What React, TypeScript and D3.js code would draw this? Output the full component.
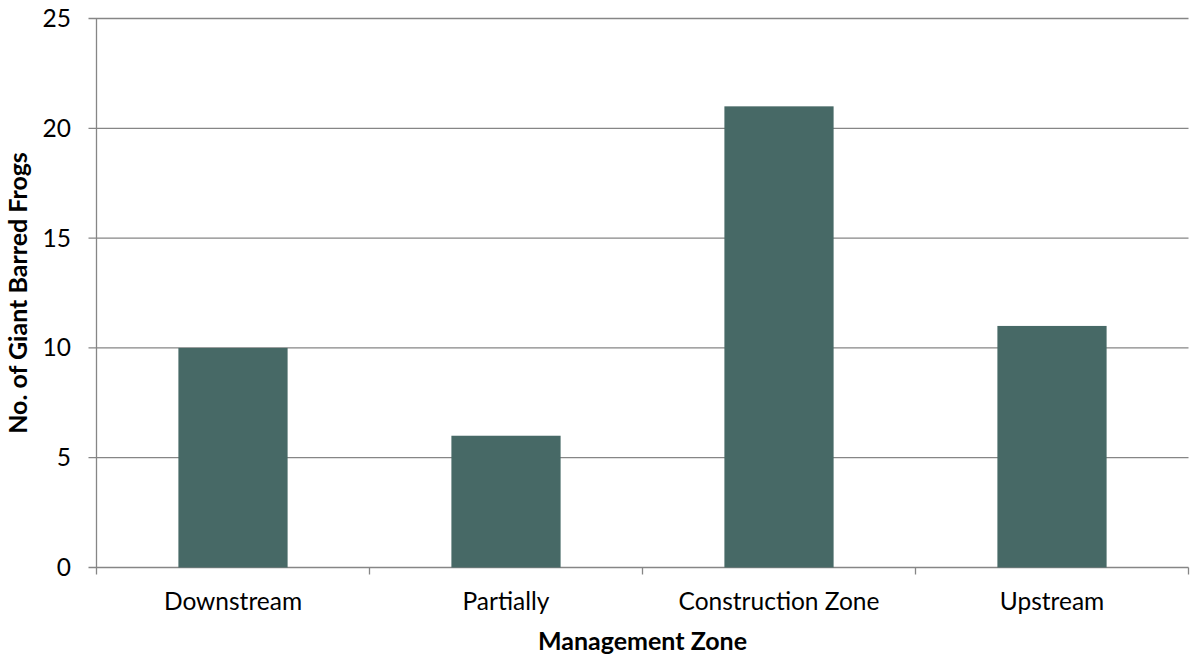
import React from "react";
import * as d3 from "d3";

const zones = ["Downstream", "Partially", "Construction Zone", "Upstream"];
const frogCounts = [10, 6, 21, 11];
const yTicks = [0, 5, 10, 15, 20, 25];

const W = 1192;
const H = 659;
const margin = { left: 96.5, right: 3.5, top: 18.5, bottom: 91.5 };
const FONT = "Lato, 'Open Sans', sans-serif";
const FS = 24.5;
const FS_TITLE = 25;

export default function App() {
  const x = d3
    .scaleBand<string>()
    .domain(zones)
    .range([margin.left, W - margin.right])
    .paddingInner(0.6)
    .paddingOuter(0.3);
  const y = d3
    .scaleLinear()
    .domain([0, 25])
    .range([H - margin.bottom, margin.top]);

  const step = x.step();
  const x0 = margin.left;
  const boundaries = d3.range(zones.length + 1).map((i) => x0 + i * step);
  const axisColor = "#868686";

  return (
    <svg
      width={W}
      height={H}
      style={{ position: "absolute", left: 0, top: 0, background: "#fff" }}
    >
      {yTicks.map((t) => (
        <g key={t}>
          <line
            x1={margin.left - 8}
            x2={W - margin.right}
            y1={y(t)}
            y2={y(t)}
            stroke={axisColor}
            strokeWidth={1.3}
          />
          <text
            x={71}
            y={y(t)}
            dy="0.35em"
            textAnchor="end"
            fontFamily={FONT}
            fontSize={FS}
            fill="#000"
          >
            {t}
          </text>
        </g>
      ))}
      {zones.map((z, i) => (
        <rect
          key={z}
          x={x(z)}
          y={y(frogCounts[i])}
          width={x.bandwidth()}
          height={y(0) - y(frogCounts[i])}
          fill="#476966"
        />
      ))}
      <line
        x1={margin.left}
        x2={margin.left}
        y1={y(25)}
        y2={y(0)}
        stroke={axisColor}
        strokeWidth={1.3}
      />
      {boundaries.map((b, i) => (
        <line
          key={i}
          x1={b}
          x2={b}
          y1={y(0)}
          y2={y(0) + 7}
          stroke={axisColor}
          strokeWidth={1.3}
        />
      ))}
      {zones.map((z) => (
        <text
          key={z}
          x={(x(z) as number) + x.bandwidth() / 2}
          y={610}
          textAnchor="middle"
          fontFamily={FONT}
          fontSize={FS}
          fill="#000"
        >
          {z}
        </text>
      ))}
      <text
        x={(margin.left + W - margin.right) / 2}
        y={650}
        textAnchor="middle"
        fontFamily={FONT}
        fontSize={FS_TITLE}
        fontWeight="bold"
        fill="#000"
      >
        Management Zone
      </text>
      <text
        transform={`translate(27, ${(y(0) + y(25)) / 2}) rotate(-90)`}
        textAnchor="middle"
        fontFamily={FONT}
        fontSize={FS_TITLE}
        fontWeight="bold"
        fill="#000"
      >
        No. of Giant Barred Frogs
      </text>
    </svg>
  );
}
